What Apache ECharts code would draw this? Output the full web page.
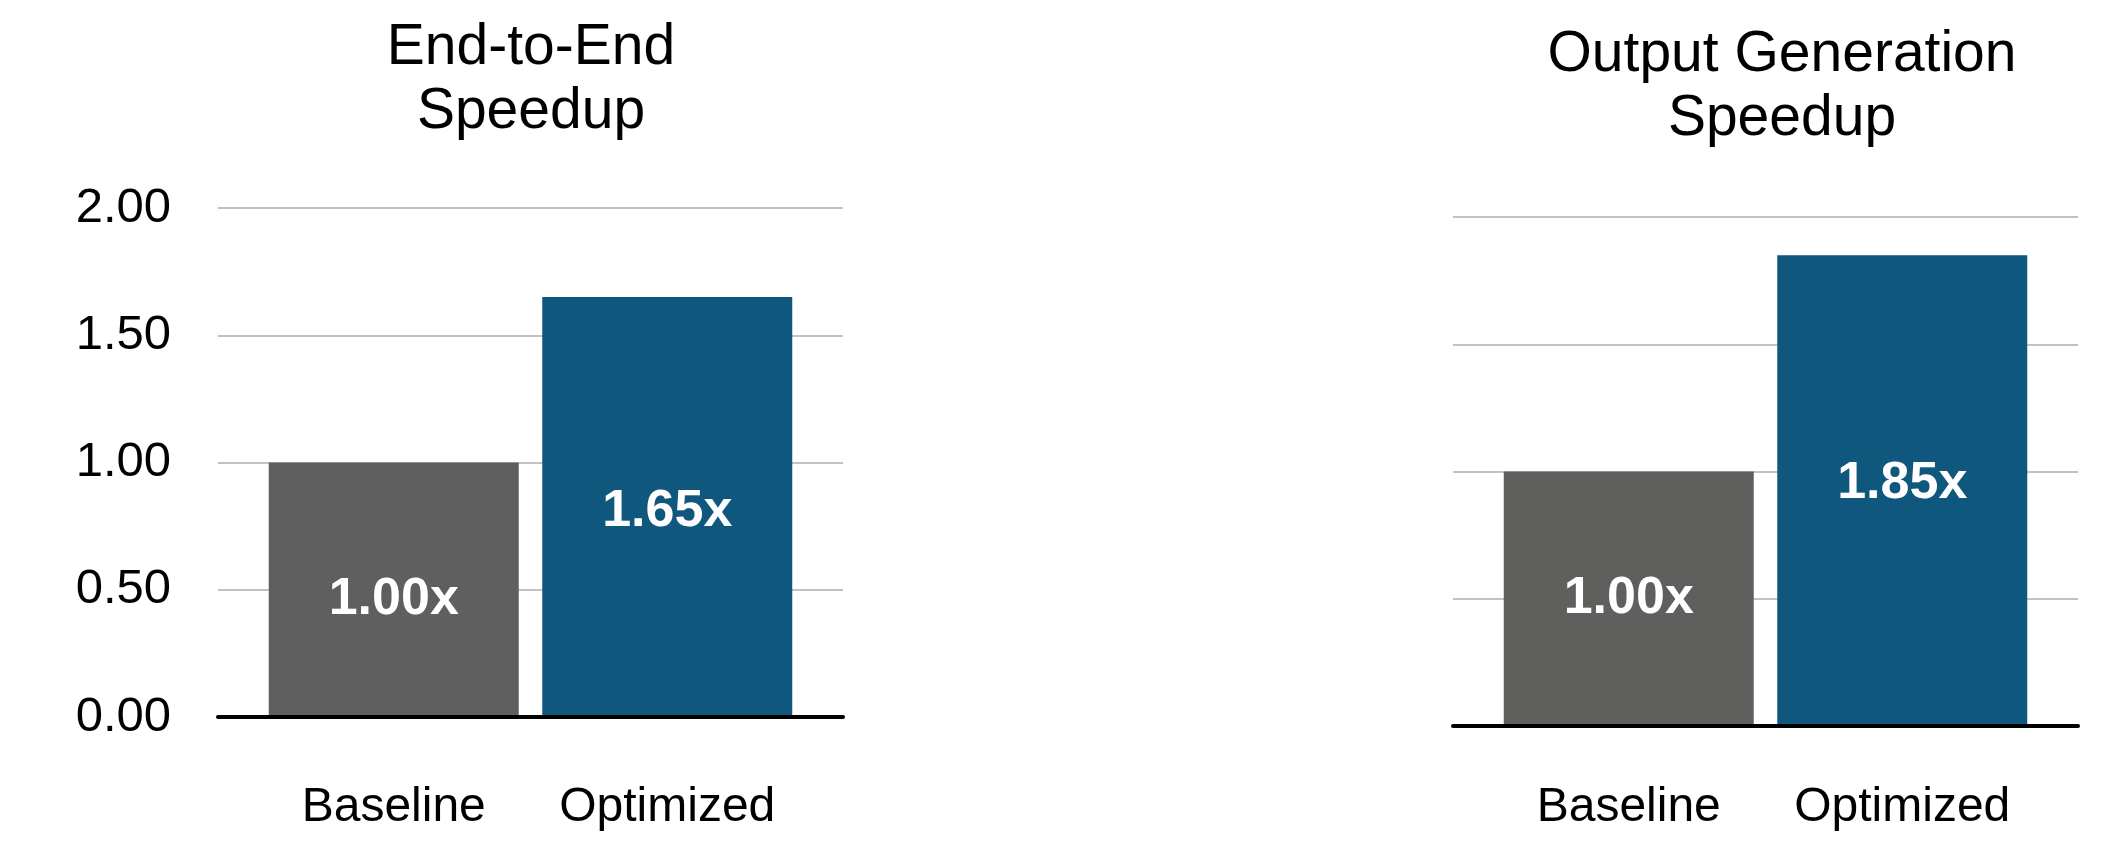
<!DOCTYPE html>
<html>
<head>
<meta charset="utf-8">
<script src="https://cdn.jsdelivr.net/npm/echarts@6/dist/echarts.min.js"></script>
<style>
  html, body { margin: 0; padding: 0; background: #ffffff; }
  #chart { width: 2128px; height: 860px; }
</style>
</head>
<body>
<div id="chart"></div>
<script>
const categories = ['Baseline', 'Optimized'];
const endToEndValues = [1.00, 1.65];
const outputGenValues = [1.00, 1.85];
const chartTitles = ['End-to-End\nSpeedup', 'Output Generation\nSpeedup'];
const yMin = 0, yMax = 2, yStep = 0.5;
const barColors = [['#5f5f5f', '#10577e'], ['#5f605d', '#10577e']];

const FONT = '"Liberation Sans", Arial, Helvetica, sans-serif';

// layout (pixels)
const panels = [
  { left: 218, top: 208, width: 625, height: 509, titleX: 531, titleTop: 16, showY: true, labelMargin: 67, valueLabelShift: [10, 5] },
  { left: 1453, top: 217, width: 625, height: 509, titleX: 1782, titleTop: 23, showY: false, labelMargin: 58, valueLabelShift: [0, -7] }
];
const innerInset = 39;

const grids = [], xAxes = [], yAxes = [], series = [], titles = [];
const datasets = [endToEndValues, outputGenValues];

panels.forEach((p, i) => {
  grids.push({ left: p.left, top: p.top, width: p.width, height: p.height, containLabel: false });
  grids.push({ left: p.left + innerInset, top: p.top, width: p.width - 2 * innerInset, height: p.height, containLabel: false });
  const outer = 2 * i, inner = 2 * i + 1;

  xAxes.push({
    gridIndex: outer, type: 'category', data: [''],
    axisLine: { show: true, lineStyle: { color: '#000', width: 4 } },
    axisTick: { show: false }, axisLabel: { show: false }, z: 5
  });
  xAxes.push({
    gridIndex: inner, type: 'category', data: categories,
    axisLine: { show: false }, axisTick: { show: false },
    axisLabel: { show: true, interval: 0, color: '#000', fontFamily: FONT, fontSize: 48, margin: p.labelMargin }
  });
  yAxes.push({
    gridIndex: outer, type: 'value', min: yMin, max: yMax, interval: yStep,
    axisLine: { show: false }, axisTick: { show: false },
    axisLabel: { show: p.showY, color: '#000', fontFamily: FONT, fontSize: 49, margin: 47,
      formatter: v => v.toFixed(2) },
    splitLine: { show: true, lineStyle: { color: '#c2c2c2', width: 2 } }
  });
  yAxes.push({
    gridIndex: inner, type: 'value', min: yMin, max: yMax, interval: yStep,
    axisLine: { show: false }, axisTick: { show: false }, axisLabel: { show: false },
    splitLine: { show: false }
  });

  series.push({
    type: 'bar', xAxisIndex: inner, yAxisIndex: inner,
    barWidth: 250,
    data: datasets[i].map((v, k) => ({
      value: v,
      itemStyle: { color: barColors[i][k] },
      label: { offset: [0, p.valueLabelShift[k]] }
    })),
    label: {
      show: true, position: 'inside', color: '#fff', fontFamily: FONT,
      fontSize: 52, fontWeight: 'bold',
      formatter: prm => prm.value.toFixed(2) + 'x'
    },
    z: 3
  });

  titles.push({
    text: chartTitles[i], left: p.titleX, top: p.titleTop, textAlign: 'center', padding: 0,
    textStyle: { color: '#000', fontFamily: FONT, fontSize: 57, fontWeight: 'normal', lineHeight: 64 }
  });
});

const chart = echarts.init(document.getElementById('chart'), null, { renderer: 'canvas' });
chart.setOption({
  animation: false,
  backgroundColor: '#ffffff',
  title: titles,
  grid: grids,
  xAxis: xAxes,
  yAxis: yAxes,
  series: series
});
</script>
</body>
</html>
